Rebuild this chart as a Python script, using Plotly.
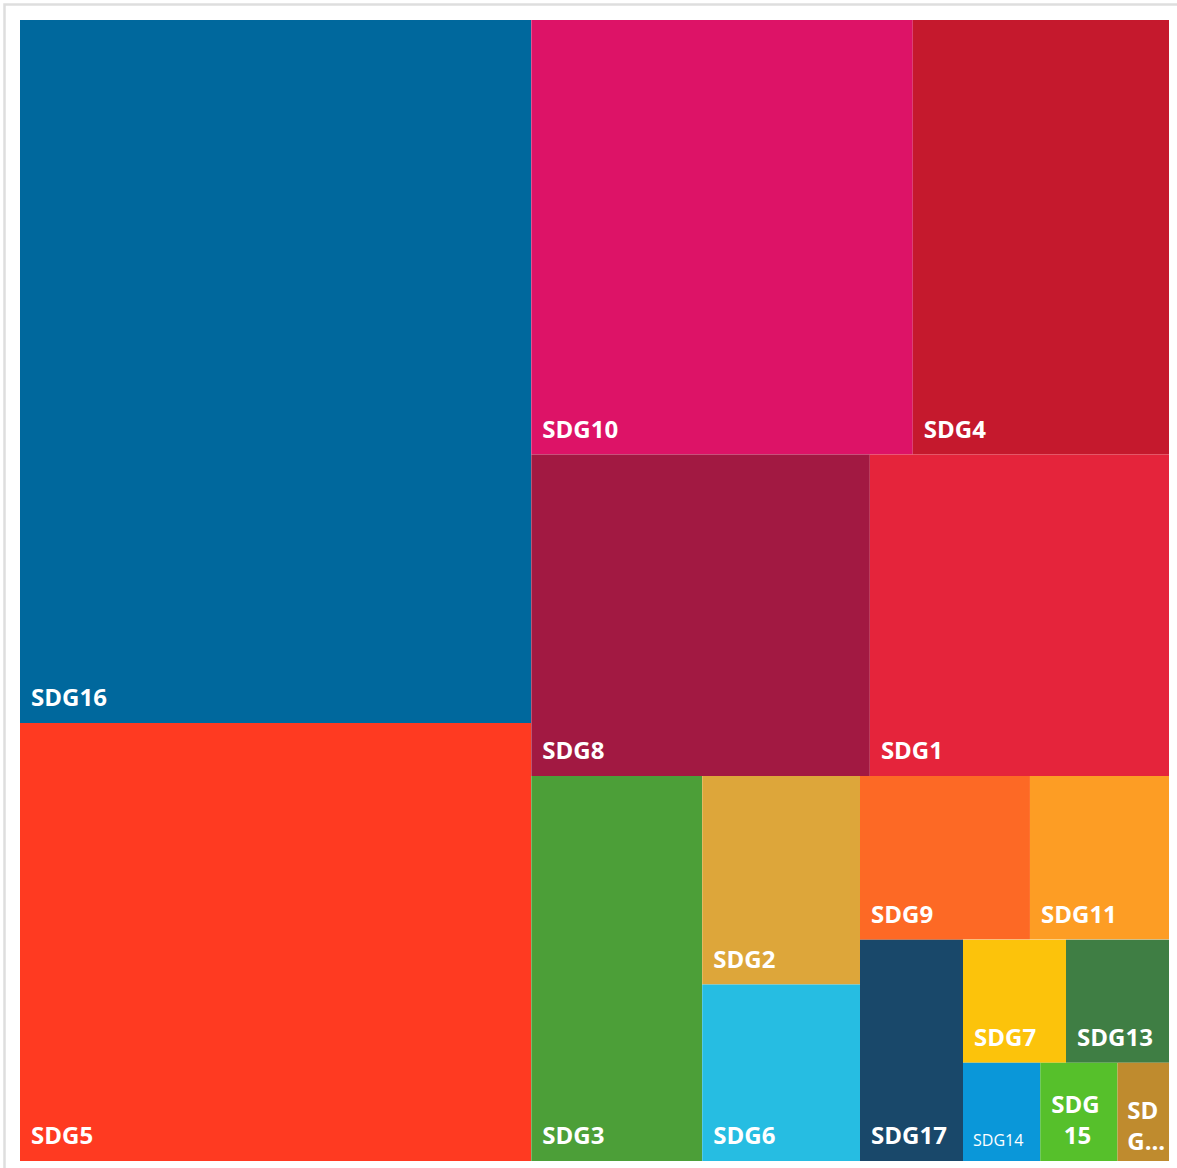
import plotly.graph_objects as go

# ---- data ----
goals = ["SDG16", "SDG5", "SDG10", "SDG4", "SDG8", "SDG1", "SDG3", "SDG2", "SDG6",
         "SDG9", "SDG11", "SDG17", "SDG7", "SDG13", "SDG14", "SDG15", "SDG12"]
counts = [284, 177, 131, 88, 86, 76, 52, 26, 22, 22, 18, 18, 10, 10, 6, 6, 4]
goal_colors = ["#00689D", "#FF3A21", "#DD1367", "#C5192D", "#A21942", "#E5243B",
               "#4C9F38", "#DDA63A", "#26BDE2", "#FD6925", "#FD9D24", "#19486A",
               "#FCC30B", "#3F7E44", "#0A97D9", "#56C02B", "#BF8B2E"]
# label lines as displayed (small tiles wrap / truncate in the reference)
display_lines = [["SDG16"], ["SDG5"], ["SDG10"], ["SDG4"], ["SDG8"], ["SDG1"], ["SDG3"],
                 ["SDG2"], ["SDG6"], ["SDG9"], ["SDG11"], ["SDG17"], ["SDG7"], ["SDG13"],
                 ["SDG14"], ["SDG", "15"], ["SD", "G..."]]

# ---- tile grouping that reproduces the reference's row layout ----
tile_tree = ("root", [
    ("g_left", ["SDG16", "SDG5"]),
    ("g_right", [
        ("g_r1", ["SDG10", "SDG4"]),
        ("g_r2", ["SDG8", "SDG1"]),
        ("g_r3", ["SDG3",
                  ("g_r3a", ["SDG2", "SDG6"]),
                  ("g_r3b", [
                      ("g_r3b1", ["SDG9", "SDG11"]),
                      ("g_r3b2", ["SDG17",
                                  ("g_r3b2a", [
                                      ("g_r3b2a1", ["SDG7", "SDG13"]),
                                      ("g_r3b2a2", ["SDG14", "SDG15", "SDG12"]),
                                  ])]),
                  ])]),
    ]),
])

BIG, SMALL = 24, 16
idx = {g: i for i, g in enumerate(goals)}
NB = "\u00a0"


def spacer(px):
    return '<span style="font-size:%dpx">%s</span>' % (px, NB)


def fmt_label(name, lines):
    if name == "SDG14":
        return spacer(27) + lines[0] + spacer(40), SMALL
    if name == "SDG15":
        return (spacer(31) + "<b>" + lines[0] + "</b><br>" + spacer(31)
                + "<b>" + NB * 2 + lines[1] + "</b>" + spacer(48)), BIG
    if name == "SDG12":
        return (spacer(26) + "<b>" + lines[0] + "</b><br>" + spacer(26)
                + "<b>" + lines[1] + "</b>"), BIG
    return spacer(31) + "<b>" + lines[0] + "</b>" + spacer(48), BIG


ids, parents, values, colors, texts, sizes, hov = [], [], [], [], [], [], []


def walk(node, parent):
    if isinstance(node, str):
        i = idx[node]
        ids.append(node)
        parents.append(parent)
        values.append(counts[i])
        colors.append(goal_colors[i])
        t, s = fmt_label(node, display_lines[i])
        texts.append(t)
        sizes.append(s)
        hov.append(node)
        return
    name, children = node
    ids.append(name)
    parents.append(parent)
    values.append(0)
    colors.append("#ffffff")
    texts.append("")
    sizes.append(BIG)
    hov.append("")
    for c in children:
        walk(c, name)


walk(tile_tree, "")

fig = go.Figure(go.Treemap(
    ids=ids,
    labels=ids,
    parents=parents,
    values=values,
    branchvalues="remainder",
    sort=False,
    text=texts,
    texttemplate="%{text}",
    hovertext=hov,
    hoverinfo="text+value",
    textposition="bottom left",
    textfont=dict(family="Open Sans", color="white", size=sizes),
    marker=dict(colors=colors, line=dict(width=0), pad=dict(t=0, l=0, r=0, b=0)),
    tiling=dict(packing="slice-dice", pad=0),
    pathbar=dict(visible=False),
))

W, H = 1177, 1168
ml, mr, mt, mb = 20, 8, 20, 7
pw, ph = W - ml - mr, H - mt - mb


def px_x(p):
    return (p - ml) / pw


def px_y(p):
    return (H - mb - p) / ph


fig.update_layout(
    width=W, height=H,
    margin=dict(l=ml, r=mr, t=mt, b=mb),
    paper_bgcolor="white",
    shapes=[dict(type="rect", xref="paper", yref="paper",
                 x0=px_x(4.5), x1=px_x(W + 10), y0=px_y(H + 10), y1=px_y(4.5),
                 line=dict(color="#dedede", width=2.5), fillcolor="rgba(0,0,0,0)",
                 layer="below")],
)

fig.write_html(
    "out.html",
    config={"displayModeBar": False},
    post_script="document.body.style.margin='0';document.body.style.overflow='hidden';",
)
